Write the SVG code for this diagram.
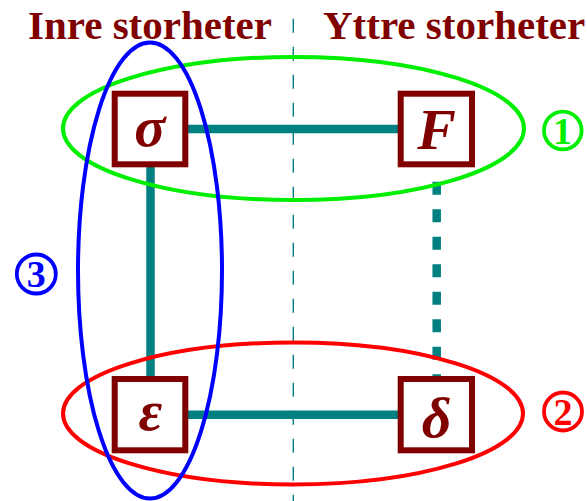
<svg xmlns="http://www.w3.org/2000/svg" width="587" height="501" viewBox="0 0 587 501">
<style>
.title{font-family:"Liberation Serif","Times New Roman",serif;font-weight:bold;font-size:41px;fill:#800000}
.box{fill:#ffffff;stroke:#800000;stroke-width:6}
.sym{font-family:"Liberation Serif","Times New Roman",serif;font-weight:bold;font-style:italic;font-size:58px;fill:#800000;text-anchor:middle}
.conn{stroke:#008080;stroke-width:8.5;fill:none}
.ell{fill:none;stroke-width:4}
.num{font-family:"Liberation Serif","Times New Roman",serif;font-weight:bold;font-size:38px;text-anchor:middle}
.ring{fill:#ffffff;stroke-width:3.8}
</style>
<rect width="587" height="501" fill="#ffffff"/>
<text class="title" x="28" y="39">Inre storheter</text>
<text class="title" x="323" y="39">Yttre storheter</text>
<line x1="293.3" y1="18.7" x2="293.3" y2="501" stroke="#008080" stroke-width="1.4" stroke-dasharray="14 14"/>
<g id="connectors">
<line class="conn" x1="150" y1="129" x2="436.5" y2="129"/>
<line class="conn" x1="150.5" y1="129" x2="150.5" y2="414.7"/>
<line class="conn" x1="150" y1="414.7" x2="436.5" y2="414.7"/>
<line class="conn" x1="436.7" y1="181.7" x2="436.7" y2="390" stroke-dasharray="13 14.5"/>
</g>
<g id="sigma">
<rect class="box" x="114.7" y="93.7" width="70.6" height="70.6"/>
<text class="sym" x="150" y="146">σ</text>
</g>
<g id="F">
<rect class="box" x="400.7" y="93.7" width="71.3" height="70.6"/>
<text class="sym" x="436.5" y="149.3">F</text>
</g>
<g id="epsilon">
<rect class="box" x="114.7" y="379" width="70.6" height="71.3"/>
<text class="sym" x="150.5" y="430">ε</text>
</g>
<g id="delta">
<rect class="box" x="400.7" y="379" width="71.3" height="71.3"/>
<text class="sym" x="436.5" y="436.5">δ</text>
</g>
<g id="groups">
<ellipse class="ell" cx="293.5" cy="128.5" rx="230.5" ry="71.5" stroke="#00ee00"/>
<ellipse class="ell" cx="293" cy="413.5" rx="230" ry="71" stroke="#ff0000"/>
<ellipse class="ell" cx="150" cy="270.5" rx="72" ry="228" stroke="#0000ff"/>
</g>
<g id="label1">
<circle class="ring" cx="562.8" cy="130.5" r="18.8" stroke="#00ee00"/>
<text class="num" x="562.5" y="143.5" fill="#00ee00">1</text>
</g>
<g id="label2">
<circle class="ring" cx="563" cy="411.5" r="19" stroke="#ff0000"/>
<text class="num" x="563" y="424.5" fill="#ff0000">2</text>
</g>
<g id="label3">
<circle class="ring" cx="36.3" cy="274" r="19.5" stroke="#0000ff"/>
<text class="num" x="36.3" y="287" fill="#0000ff">3</text>
</g>
</svg>
